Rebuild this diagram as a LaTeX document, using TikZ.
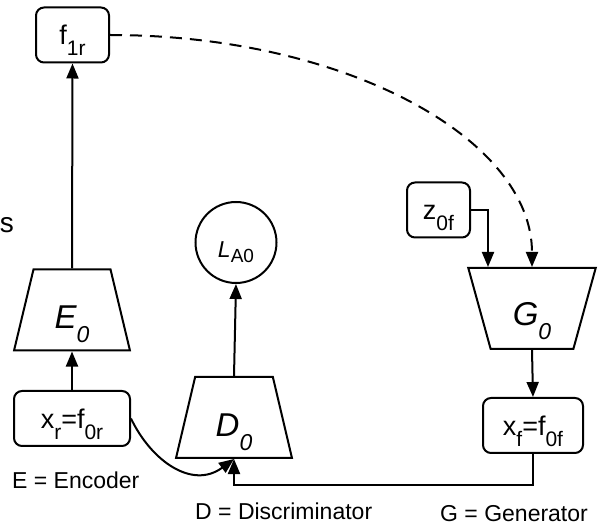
\documentclass[tikz,border=0pt]{standalone}
\usepackage{fontspec}
\setmainfont{Liberation Sans}
\usetikzlibrary{arrows.meta,shapes.geometric}
\newcommand{\boxsub}[1]{\raisebox{-11pt}{\fontsize{21}{21}\selectfont #1}}
\newcommand{\netsub}[1]{\raisebox{-14pt}{\fontsize{23}{23}\selectfont #1}}
\newcommand{\losssub}[1]{\raisebox{-5pt}{\fontsize{19}{19}\selectfont #1}}

\begin{document}
\begin{tikzpicture}[x=1pt,y=-1pt,
      varbox/.style={draw,line width=2pt,rounded corners=8pt,inner sep=0pt,minimum height=55pt,
        text height=20pt,text depth=0pt,font=\fontsize{27}{27}\selectfont},
      netblock/.style={draw,line width=2pt,trapezium,trapezium stretches=true,minimum height=81pt,
        inner sep=0pt,text depth=0pt,font=\fontsize{33}{33}\selectfont\itshape},
      legend/.style={anchor=base west,inner sep=0pt,font=\fontsize{23}{23}\selectfont},
      flow/.style={line width=2pt,-{Triangle[length=15pt,width=12pt]}}]
    \useasboundingbox (0,0) rectangle (598,529);

    % Branche reelle : x_r -> E_0 -> f_1r.
    \node[varbox,minimum width=73pt] (f1r) at (72.5,35) {f\boxsub{1r}};
    \node[netblock,minimum width=116pt,trapezium left angle=77,trapezium right angle=77,
      text height=38pt] (E0) at (72,310) {E\netsub{0}};
    \node[varbox,minimum width=116pt] (xr) at (72,418.5) {x\boxsub{r}=f\boxsub{0r}};
    \node[anchor=base east,inner sep=0pt,font=\fontsize{28}{28}\selectfont] (cut) at (14,233) {s};

    % Discriminateur et sa perte.
    \node[netblock,minimum width=116pt,trapezium left angle=77,trapezium right angle=77,
      text height=39pt] (D0) at (234,417.5) {D\netsub{0}};
    \node[draw,circle,line width=2pt,minimum size=81pt,inner sep=0pt,text height=31pt,
      text depth=0pt,font=\fontsize{23}{23}\selectfont] (LA0) at (236,242.5) {\textit{L}\losssub{A0}};

    % Branche generee : z_0f -> G_0 -> x_f.
    \node[varbox,minimum width=63pt] (z0f) at (438.5,210) {z\boxsub{0f}};
    \node[netblock,minimum width=128pt,trapezium left angle=107,trapezium right angle=107,
      text height=34pt] (G0) at (532,308.5) {G\netsub{0}};
    \node[varbox,minimum width=100pt] (xf) at (533,425.5) {x\boxsub{f}=f\boxsub{0f}};

    \node[legend] (encleg) at (12,489) {E = Encoder};
    \node[legend] (disleg) at (195,520) {D = Discriminator};
    \node[legend] (genleg) at (440,522) {G = Generator};

    \draw[flow] (xr.north) -- (E0.south);
    \draw[flow] (E0.north) -- (f1r.south);
    \draw[flow] (D0.north) -- (LA0.south);
    \draw[flow] (xr.east) .. controls +(20,42) and +(-42,31) .. (D0.south);
    \draw[flow] (xf.south) -- ++(0,31) -| (D0.south);
    \draw[flow] (z0f.east) -| ([xshift=-44pt]G0.north);
    \draw[flow] (G0.south) -- (xf.north);
    \draw[flow,dash pattern=on 12pt off 8pt] (f1r.east) .. controls +(234,0) and +(0,-129) .. (G0.north);
  \end{tikzpicture}
\end{document}
